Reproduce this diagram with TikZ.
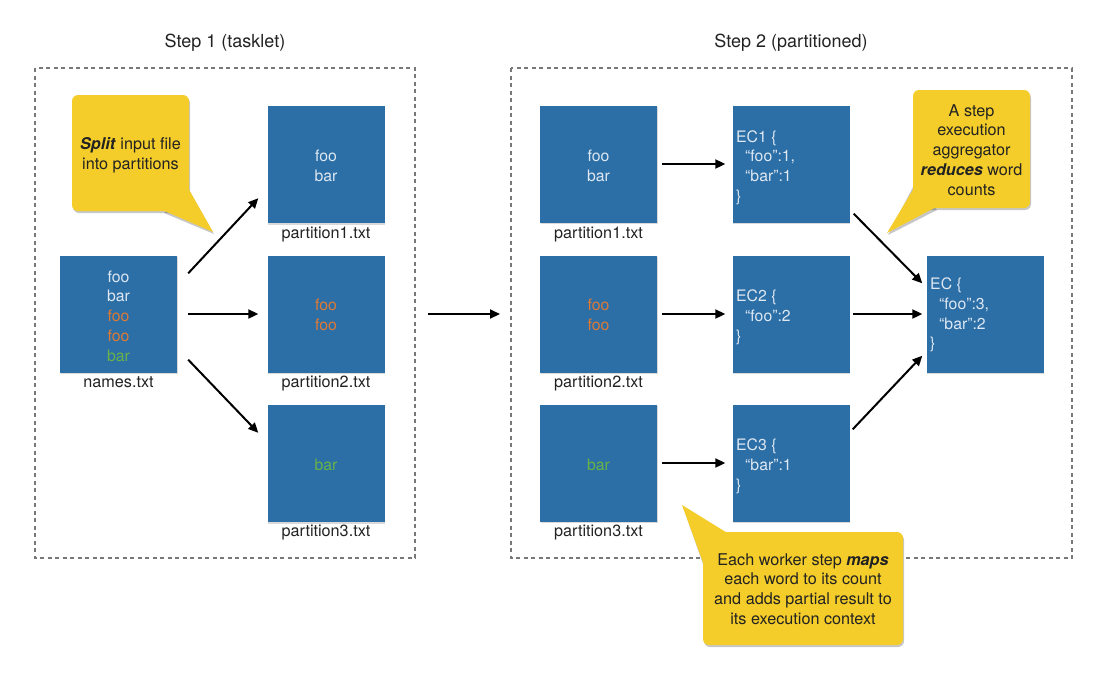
\documentclass[tikz,border=0pt]{standalone}
\usepackage{fontspec}
\setmainfont{TeX Gyre Heros}
\usetikzlibrary{arrows.meta,shadows}
\definecolor{boxblue}{RGB}{44,110,166}
\definecolor{boxtext}{RGB}{222,232,242}
\definecolor{orangetext}{RGB}{221,122,52}
\definecolor{greentext}{RGB}{104,178,72}
\definecolor{calloutyellow}{RGB}{244,205,42}
\definecolor{dashgray}{RGB}{120,120,120}
\definecolor{darktext}{RGB}{34,34,34}
\tikzset{
  filebox/.style={fill=boxblue, minimum width=117pt, minimum height=117pt, inner sep=0pt,
    drop shadow={shadow xshift=0.6pt, shadow yshift=-1.8pt, opacity=0.3}},
  boxtxt/.style={text=boxtext, font=\fontsize{15.8}{19.8}\selectfont, inner sep=0pt},
  lbl/.style={text=darktext, font=\fontsize{16.2}{19}\selectfont, inner sep=0pt},
  titletxt/.style={text=darktext, font=\fontsize{18}{21}\selectfont, inner sep=0pt},
  calltxt/.style={text=darktext, font=\fontsize{16.2}{19.8}\selectfont, inner sep=0pt, align=center},
  arr/.style={line width=2pt, -{Triangle[length=10pt,width=9pt]}},
  frame/.style={draw=dashgray, line width=1.1pt, dash pattern=on 4pt off 3.5pt},
  callfill/.style={fill=calloutyellow},
  callshadow/.style={fill=black, opacity=0.22},
}
\begin{document}
\begin{tikzpicture}[x=1pt,y=-1pt]
\useasboundingbox (0,0) rectangle (1108,673);

% titles
\node[titletxt] (t1) at (225,43) {Step 1 (tasklet)};
\node[titletxt] (t2) at (791,43) {Step 2 (partitioned)};

% dashed frames
\draw[frame] (35,68) rectangle (415,558);
\draw[frame] (511,68) rectangle (1072,558);

% step 1 boxes
\node[filebox] (nm) at (118.5,314) {};
\node[boxtxt, align=center] (nmt) at (118.5,316) {foo\\bar\\\textcolor{orangetext}{foo}\\\textcolor{orangetext}{foo}\\\textcolor{greentext}{bar}};
\node[lbl] (nml) at (118.5,382) {names.txt};

\node[filebox] (p1) at (326,164.5) {};
\node[boxtxt, align=center] (p1t) at (326,166) {foo\\bar};
\node[lbl] (p1l) at (326,235) {partition1.txt};

\node[filebox] (p2) at (326,314) {};
\node[boxtxt, align=center, text=orangetext] (p2t) at (326,315) {foo\\foo};
\node[lbl] (p2l) at (326,384) {partition2.txt};

\node[filebox] (p3) at (326,463.5) {};
\node[boxtxt, text=greentext] (p3t) at (326,465) {bar};
\node[lbl] (p3l) at (326,533) {partition3.txt};

% step 2 partitions
\node[filebox] (q1) at (598.5,164) {};
\node[boxtxt, align=center] (q1t) at (598.5,166) {foo\\bar};
\node[lbl] (q1l) at (598.5,235) {partition1.txt};

\node[filebox] (q2) at (598.5,314) {};
\node[boxtxt, align=center, text=orangetext] (q2t) at (598.5,315) {foo\\foo};
\node[lbl] (q2l) at (598.5,384) {partition2.txt};

\node[filebox] (q3) at (598.5,463) {};
\node[boxtxt, text=greentext] (q3t) at (598.5,465) {bar};
\node[lbl] (q3l) at (598.5,533) {partition3.txt};

% execution contexts
\node[filebox] (e1) at (791,164) {};
\node[boxtxt, align=left, anchor=west] (e1t) at (736,167.5) {EC1 \{\\\hspace*{9pt}“foo”:1,\\\hspace*{9pt}“bar”:1\\\}};
\node[filebox] (e2) at (791,314) {};
\node[boxtxt, align=left, anchor=west] (e2t) at (736,317) {EC2 \{\\\hspace*{9pt}“foo”:2\\\}};
\node[filebox] (e3) at (791,463) {};
\node[boxtxt, align=left, anchor=west] (e3t) at (736,466) {EC3 \{\\\hspace*{9pt}“bar”:1\\\}};
\node[filebox] (ef) at (985,314) {};
\node[boxtxt, align=left, anchor=west] (eft) at (930,315) {EC \{\\\hspace*{9pt}“foo”:3,\\\hspace*{9pt}“bar”:2\\\}};

% arrows step 1
\draw[arr] ([shift={(11,18)}]nm.north east) -- ([shift={(-9,-25)}]p1.south west);
\draw[arr, shorten <=11pt, shorten >=9pt] (nm.east) -- (p2.west);
\draw[arr] ([shift={(11,-13)}]nm.south east) -- ([shift={(-9,28)}]p3.north west);

% middle arrow
\coordinate (m1) at (428,314);
\coordinate (m2) at (500,314);
\draw[arr] (m1) -- (m2);

% step 2 arrows
\draw[arr, shorten <=5pt, shorten >=7pt] (q1.east) -- (e1.west);
\draw[arr, shorten <=5pt, shorten >=7pt] (q2.east) -- (e2.west);
\draw[arr, shorten <=5pt, shorten >=7pt] (q3.east) -- (e3.west);
\draw[arr] ([shift={(4,-9)}]e1.south east) -- ([shift={(-4,28)}]ef.north west);
\draw[arr, shorten <=3pt, shorten >=4pt] (e2.east) -- (ef.west);
\draw[arr] ([shift={(3,25)}]e3.north east) -- ([shift={(-4,-17)}]ef.south west);

% callout 1
\fill[callshadow, rounded corners=6pt] (73,97) rectangle (190,213);
\fill[callshadow] (164,213) -- (214,234) -- (189,190) -- cycle;
\fill[callfill, rounded corners=6pt] (72,95) rectangle (189,211);
\fill[callfill] (160,209) -- (213,232) -- (187,186) -- cycle;
\node[calltxt] (c1) at (130.5,155) {\textbf{\textit{Split}} input file\\into partitions};

% callout 2
\fill[callshadow] (914,185) -- (888,235) -- (937,210) -- cycle;
\fill[callshadow, rounded corners=6pt] (914,92) rectangle (1031,210);
\fill[callfill] (917,183) -- (887,233) -- (938,206) -- cycle;
\fill[callfill, rounded corners=6pt] (913,90) rectangle (1030,208);
\node[calltxt] (c2) at (971.5,150) {A step\\execution\\aggregator\\\textbf{\textit{reduces}} word\\counts};

% callout 3
\fill[callshadow] (683,507) -- (726,534) -- (704,567) -- cycle;
\fill[callshadow, rounded corners=6pt] (704,534) rectangle (904,647);
\fill[callfill] (682,505) -- (729,534) -- (705,568) -- cycle;
\fill[callfill, rounded corners=6pt] (703,532) rectangle (903,645);
\node[calltxt] (c3) at (803,589) {Each worker step \textbf{\textit{maps}}\\each word to its count\\and adds partial result to\\its execution context};
\end{tikzpicture}
\end{document}
